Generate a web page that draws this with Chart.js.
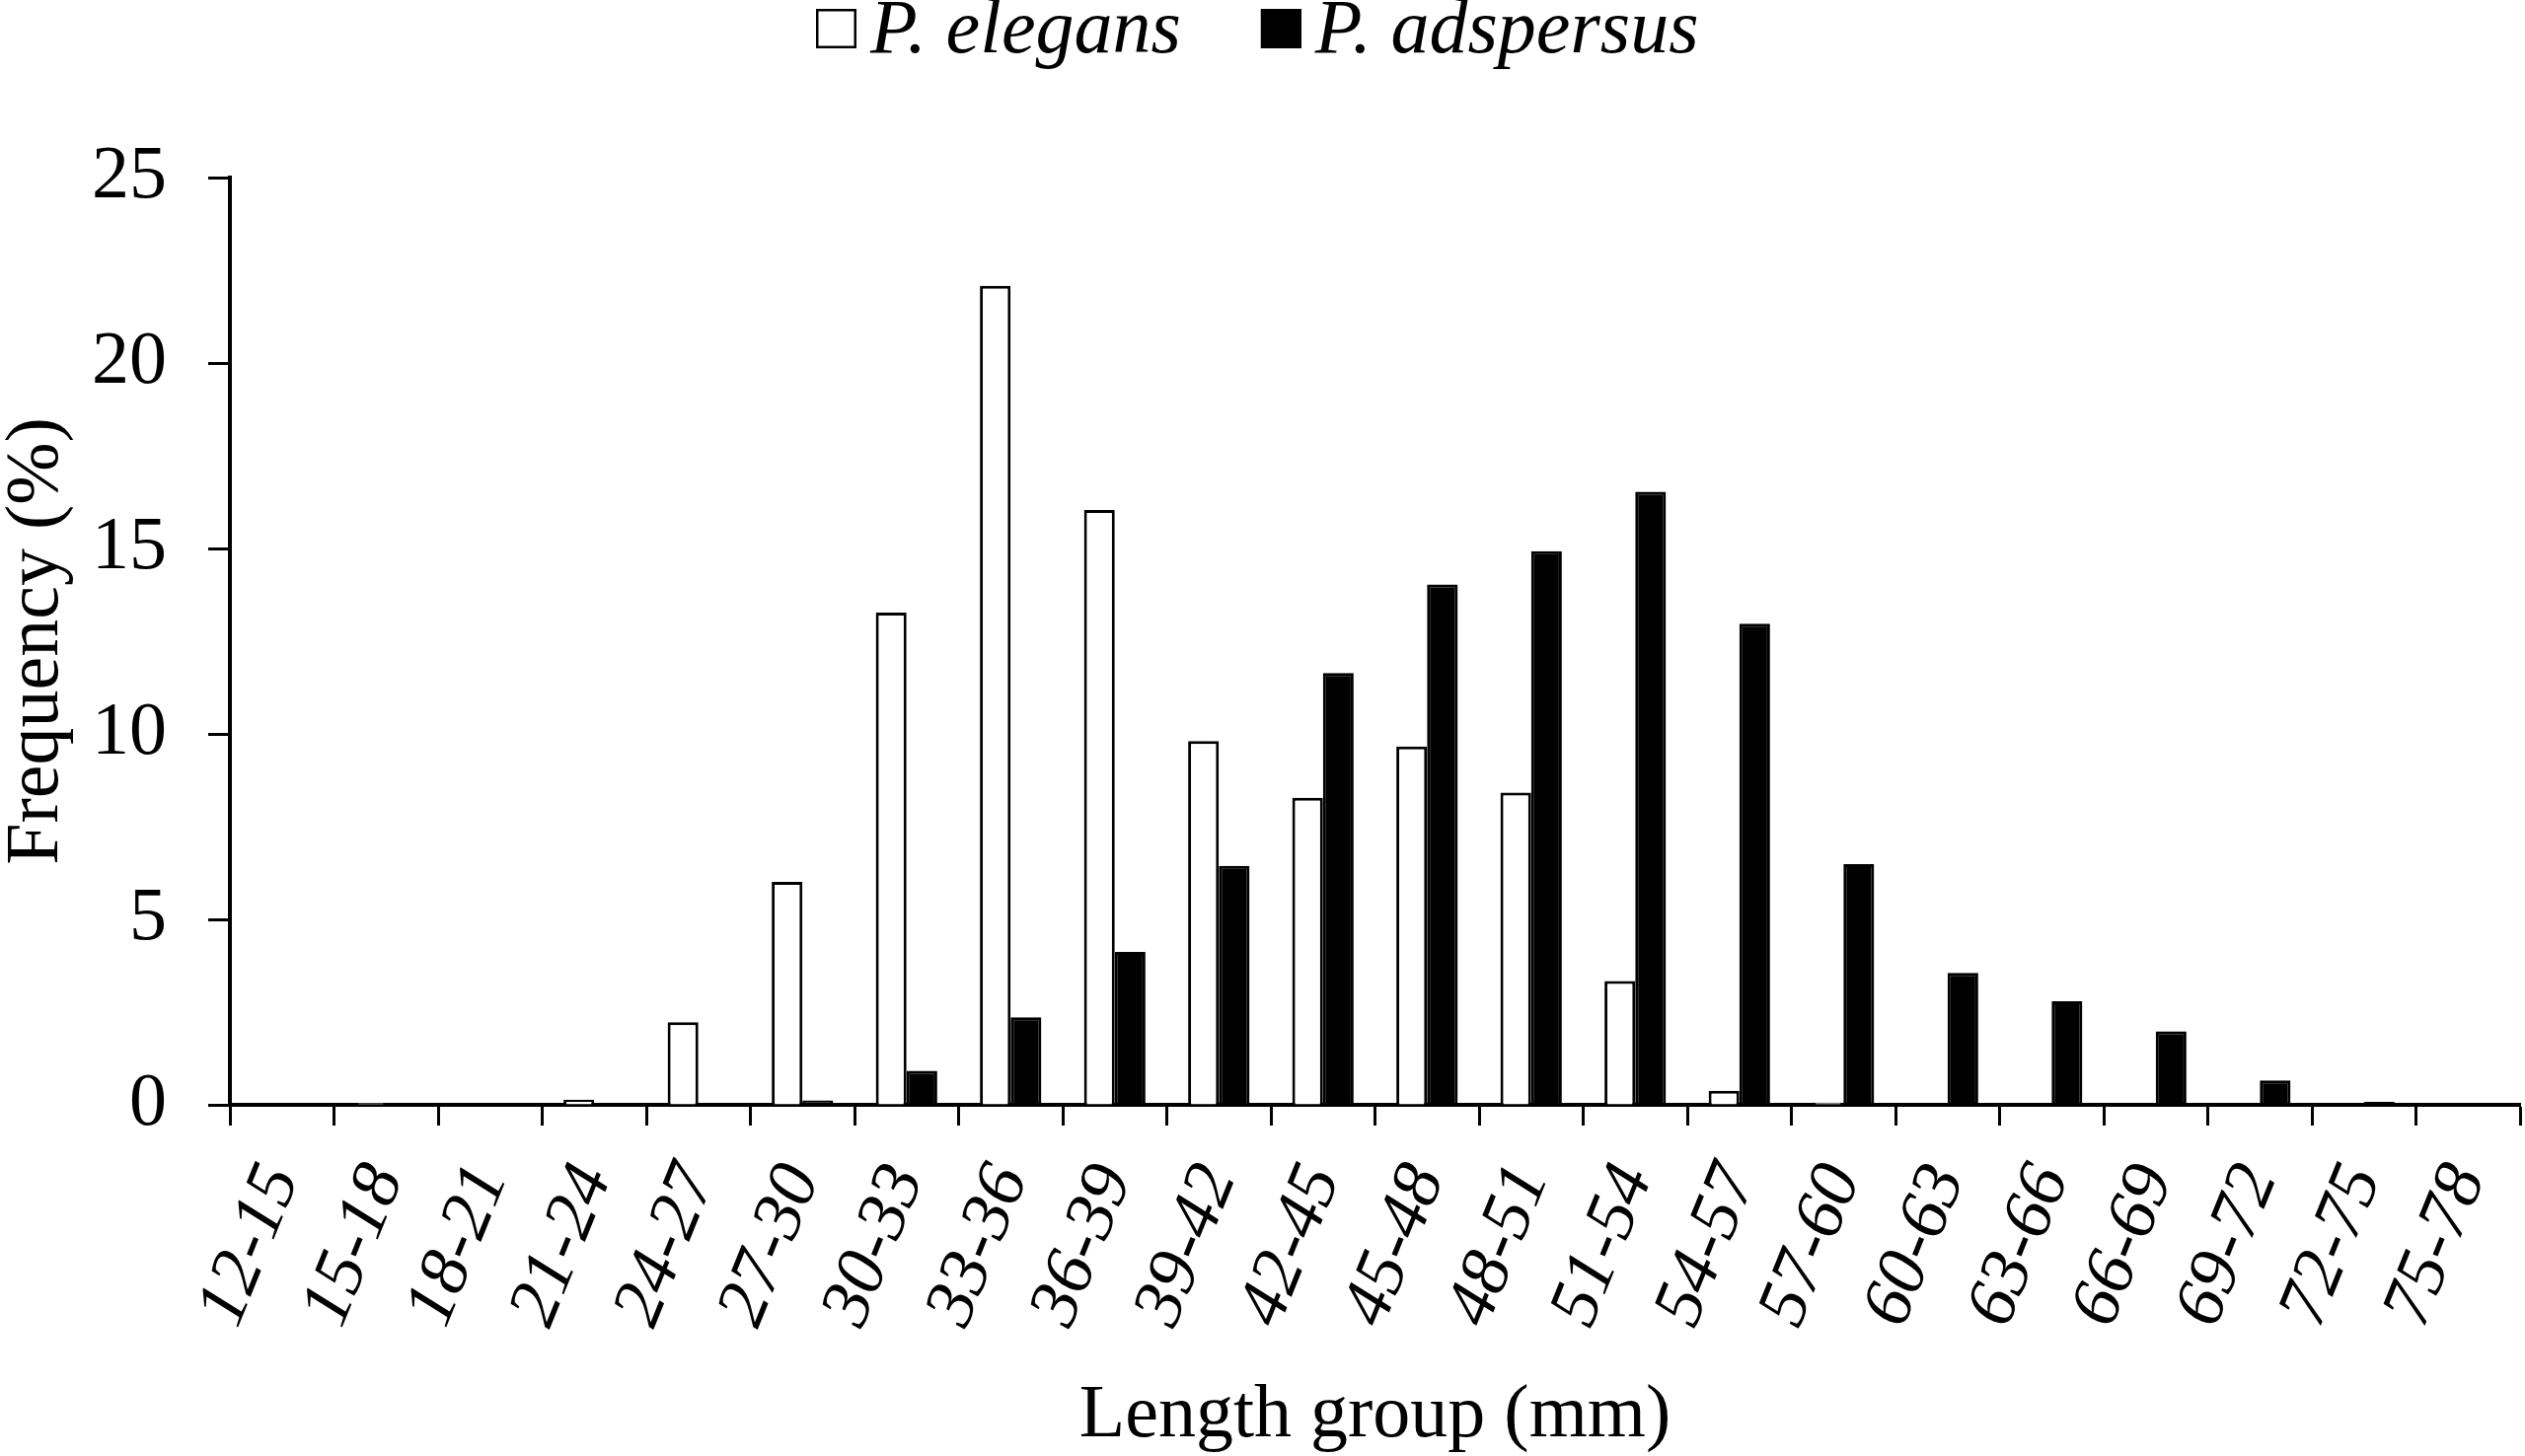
<!DOCTYPE html>
<html>
<head>
<meta charset="utf-8">
<title>Length frequency</title>
<script src="https://cdn.jsdelivr.net/npm/chart.js@4.4.1/dist/chart.umd.min.js"></script>
<style>
  html, body { margin: 0; padding: 0; background: #fff; }
  #wrap { width: 2559px; height: 1476px; }
</style>
</head>
<body>
<div id="wrap"><canvas id="lengthChart" width="2559" height="1476"></canvas></div>
<script>
const lengthGroups = ["12-15", "15-18", "18-21", "21-24", "24-27", "27-30", "30-33", "33-36",
  "36-39", "39-42", "42-45", "45-48", "48-51", "51-54", "54-57", "57-60", "60-63", "63-66",
  "66-69", "69-72", "72-75", "75-78"];
const elegans = [0, 0.05, 0, 0.14, 2.23, 6.01, 13.27, 22.08, 16.04, 9.81, 8.28, 9.66, 8.42,
  3.34, 0.38, 0.06, 0, 0, 0, 0, 0, 0];
const adspersus = [0, 0, 0.03, 0.03, 0.05, 0.12, 0.92, 2.36, 4.12, 6.44, 11.64, 14.03, 14.93,
  16.53, 12.97, 6.49, 3.56, 2.79, 1.98, 0.66, 0.08, 0];
const yMin = 0, yMax = 25, yStep = 5;

const serif = "'Liberation Serif', 'Times New Roman', serif";

// legend drawn by hand: square keys sitting close to the italic names
const legendKeys = {
  id: "legendKeys",
  afterDraw(c) {
    const ctx = c.ctx;
    ctx.save();
    ctx.font = `italic 78px ${serif}`;
    ctx.textBaseline = "alphabetic";
    let x = 827;
    c.data.datasets.forEach(ds => {
      ctx.fillStyle = ds.backgroundColor;
      ctx.fillRect(x, 9, 41, 40);
      ctx.lineWidth = 2.5;
      ctx.strokeStyle = "#000";
      ctx.strokeRect(x + 1.25, 10.25, 38.5, 37.5);
      ctx.fillStyle = "#000";
      ctx.fillText(ds.label, x + 55, 53);
      x += 55 + ctx.measureText(ds.label).width + 81;
    });
    ctx.restore();
  }
};

const ctx = document.getElementById("lengthChart").getContext("2d");
new Chart(ctx, {
  type: "bar",
  data: {
    labels: lengthGroups,
    datasets: [
      {
        label: "P. elegans",
        data: elegans,
        backgroundColor: "#ffffff",
        borderColor: "#000000",
        borderWidth: 3,
        categoryPercentage: 0.59,
        barPercentage: 1.0
      },
      {
        label: "P. adspersus",
        data: adspersus,
        backgroundColor: "#000000",
        borderColor: "#000000",
        borderWidth: 3,
        categoryPercentage: 0.59,
        barPercentage: 1.0
      }
    ]
  },
  options: {
    responsive: false,
    animation: false,
    devicePixelRatio: 1,
    layout: { padding: { top: 180, right: 5, left: 0, bottom: 0 } },
    plugins: {
      legend: { display: false },
      tooltip: { enabled: false }
    },
    scales: {
      x: {
        offset: true,
        grid: { offset: true, drawOnChartArea: false, tickLength: 21, tickWidth: 3, tickColor: "#000" },
        border: { color: "#000", width: 4 },
        ticks: {
          color: "#000",
          font: { family: serif, size: 72, style: "italic" },
          minRotation: 68,
          maxRotation: 68,
          autoSkip: false,
          padding: 28
        },
        title: {
          display: true,
          text: "Length group (mm)",
          color: "#000",
          font: { family: serif, size: 76, lineHeight: 1 },
          padding: { top: 0, bottom: 2 }
        },
        afterFit(s) {
          s.height = 356;
          s.paddingLeft = 0;
          s.paddingRight = 0;
        }
      },
      y: {
        min: yMin,
        max: yMax,
        ticks: {
          stepSize: yStep,
          color: "#000",
          font: { family: serif, size: 76 },
          padding: 42
        },
        grid: { drawOnChartArea: false, tickLength: 22, tickWidth: 3, tickColor: "#000" },
        border: { color: "#000", width: 4 },
        title: {
          display: true,
          text: "Frequency (%)",
          color: "#000",
          font: { family: serif, size: 76, lineHeight: 1 },
          padding: 0
        },
        afterFit(s) { s.width = 233; }
      }
    }
  },
  plugins: [legendKeys]
});
</script>
</body>
</html>
